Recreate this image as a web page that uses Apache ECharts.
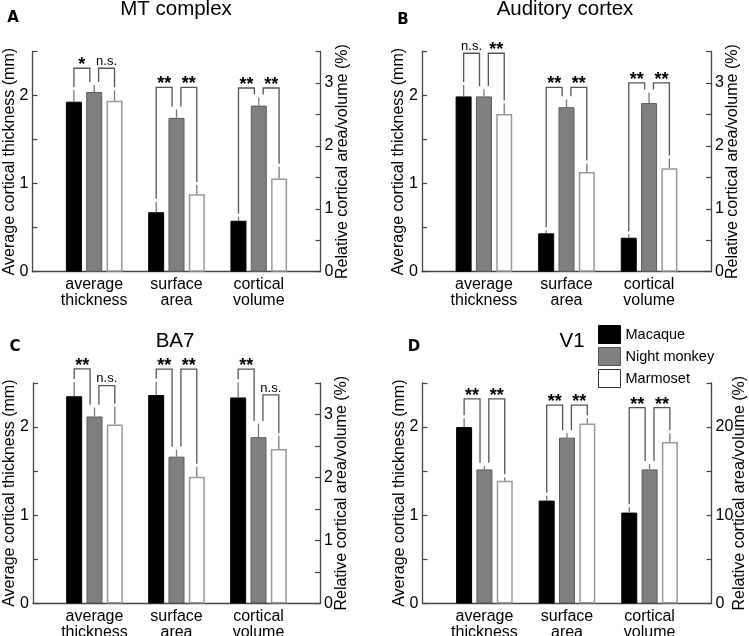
<!DOCTYPE html>
<html><head><meta charset="utf-8">
<script src="https://cdn.jsdelivr.net/npm/echarts@6/dist/echarts.min.js"></script>
<style>html,body{margin:0;padding:0;background:#fff}#chart{width:749px;height:636px}</style>
</head><body><div id="chart"></div>
<script>
// ---------------- data ----------------
const categories = ['average\nthickness', 'surface\narea', 'cortical\nvolume'];
const species = ['Macaque', 'Night monkey', 'Marmoset'];
const panelTitles = ['MT complex', 'Auditory cortex', 'BA7', 'V1'];
const panelLetters = ['A', 'B', 'C', 'D'];
const leftAxisName = 'Average cortical thickness (mm)';
const rightAxisName = 'Relative cortical area/volume (%)';
const leftMax = 2.5, leftInterval = 0.5, leftLabelStep = 1;
const rightMax = [3.5, 3.5, 3.5, 25];
const rightInterval = [0.5, 0.5, 0.5, 5];
const rightLabelStep = [1, 1, 1, 10];

// rows: average thickness (mm), surface area (%), cortical volume (%)
// columns: Macaque, Night monkey, Marmoset
const mtMean = [[1.93, 2.04, 1.94], [0.945, 2.445, 1.23], [0.81, 2.64, 1.48]];
const mtErr = [[0.13, 0.08, 0.12], [0.165, 0.135, 0.15], [0.065, 0.13, 0.19]];
const mtBracket = [[2.31, 2.31], [2.93, 2.93], [2.92, 2.92]];
const mtSig = [['*', 'n.s.'], ['**', '**'], ['**', '**']];

const audMean = [[1.99, 1.99, 1.79], [0.61, 2.615, 1.585], [0.54, 2.68, 1.645]];
const audErr = [[0.13, 0.08, 0.12], [0.05, 0.125, 0.135], [0.055, 0.17, 0.155]];
const audBracket = [[2.48, 2.48], [2.93, 2.93], [3.0, 3.0]];
const audSig = [['n.s.', '**'], ['**', '**'], ['**', '**']];

const ba7Mean = [[2.35, 2.12, 2.03], [3.31, 2.33, 2.01], [3.27, 2.64, 2.45]];
const ba7Err = [[0.16, 0.10, 0.20], [0.21, 0.11, 0.16], [0.24, 0.21, 0.21]];
const ba7Bracket = [[2.66, 2.47], [3.72, 3.72], [3.72, 3.31]];
const ba7Sig = [['**', 'n.s.'], ['**', '**'], ['**', 'n.s.']];

const v1Mean = [[2.0, 1.52, 1.39], [11.66, 18.8, 20.4], [10.3, 15.2, 18.3]];
const v1Err = [[0.10, 0.04, 0.04], [0.55, 0.5, 0.6], [0.6, 0.6, 1.0]];
const v1Bracket = [[2.32, 2.32], [22.5, 22.5], [22.2, 22.2]];
const v1Sig = [['**', '**'], ['**', '**'], ['**', '**']];

const panels = [
  {mean: mtMean, err: mtErr, bracket: mtBracket, sig: mtSig},
  {mean: audMean, err: audErr, bracket: audBracket, sig: audSig},
  {mean: ba7Mean, err: ba7Err, bracket: ba7Bracket, sig: ba7Sig},
  {mean: v1Mean, err: v1Err, bracket: v1Bracket, sig: v1Sig}
];

// ---------------- layout / style ----------------
const FONT = '"Liberation Sans", Arial, sans-serif';
const AXIS_COLOR = '#444';
const gridLayout = [
  {left: 32.5, top: 51.5, width: 288, height: 220.2},
  {left: 422, top: 51.5, width: 289, height: 220.2},
  {left: 33, top: 383, width: 287, height: 220.4},
  {left: 422.5, top: 383, width: 289, height: 220.4}
];
const titlePos = [[176, 9], [565, 9], [175, 341.5], [572, 341.5]];
const letterPos = [[13, 18], [403, 20], [15, 347], [414, 347]];
const rightNameGap = [14, 14, 14, 20];
const barStyles = [
  {color: '#000', borderColor: '#000', borderWidth: 1},
  {color: '#808080', borderColor: '#5a5a5a', borderWidth: 1},
  {color: '#fff', borderColor: '#999', borderWidth: 1.5}
];
const BAR_W = 16, BAR_GAP = '27%', SLOT = 20.3, LEG_OFF = 4.4, LEG_GAP = 3;

const isMultiple = (v, step) => Math.abs(v / step - Math.round(v / step)) < 1e-6;

const grid = [], xAxis = [], yAxis = [], series = [], graphic = [];

function annotSeries(p, axisIdx, groups) {
  const P = panels[p];
  return {
    type: 'custom', xAxisIndex: axisIdx, yAxisIndex: axisIdx, clip: false, silent: true, z: 10,
    data: groups.map(g => [g + 1, 0]),
    encode: {x: 0, y: 1},
    renderItem: function (params, api) {
      const g = groups[params.dataIndex];
      const m = P.mean[g], e = P.err[g], b = P.bracket[g], s = P.sig[g];
      const cx = api.coord([g + 1, 0])[0];
      const xs = [cx - SLOT, cx, cx + SLOT];
      const yBase = m.map(v => api.coord([g + 1, v])[1]);
      const yErr = m.map((v, i) => api.coord([g + 1, v + e[i]])[1]);
      const children = [];
      for (let i = 0; i < 3; i++) {
        children.push({type: 'line', shape: {x1: xs[i], y1: yBase[i], x2: xs[i], y2: yErr[i]},
          style: {stroke: '#777', lineWidth: 1.3}});
      }
      [[0, 1], [1, 2]].forEach(([a, c], k) => {
        const xl = a === 1 ? xs[a] + LEG_OFF : xs[a];
        const xr = c === 1 ? xs[c] - LEG_OFF : xs[c];
        const yb = api.coord([g + 1, b[k]])[1];
        children.push({type: 'polyline',
          shape: {points: [[xl, yErr[a] - LEG_GAP], [xl, yb], [xr, yb], [xr, yErr[c] - LEG_GAP]]},
          style: {stroke: '#555', lineWidth: 1.3, fill: 'none'}});
        const star = s[k] !== 'n.s.';
        children.push({type: 'text', style: {
          text: s[k], x: (xl + xr) / 2, y: yb + (star ? 6 : -0.5),
          align: 'center', verticalAlign: 'bottom', fill: '#000',
          font: star ? 'bold 18px ' + FONT : '13px ' + FONT}});
      });
      return {type: 'group', children: children};
    }
  };
}

panels.forEach((P, p) => {
  grid.push(Object.assign({containLabel: false, outerBoundsMode: 'none'}, gridLayout[p]));
  const xBase = {
    type: 'value', gridIndex: p, min: 0.25, max: 3.75, interval: 0.25,
    splitLine: {show: false}, axisTick: {show: false}
  };
  xAxis.push(Object.assign({}, xBase, {
    axisLine: {show: true, onZero: false, lineStyle: {color: AXIS_COLOR, width: 1.3}},
    axisLabel: {
      show: true, margin: 5, fontSize: 16, lineHeight: 16, color: '#000', fontFamily: FONT,
      formatter: v => (isMultiple(v, 1) && v >= 1 && v <= 3) ? categories[Math.round(v) - 1] : ''
    }
  }));
  xAxis.push(Object.assign({}, xBase, {show: false}));
  const yCommon = {
    type: 'value', gridIndex: p, min: 0,
    nameLocation: 'middle', nameRotate: 90, nameMoveOverlap: false,
    nameTextStyle: {fontSize: 16, color: '#000', fontFamily: FONT},
    splitLine: {show: false},
    axisLine: {show: true, onZero: false, lineStyle: {color: AXIS_COLOR, width: 1.3}},
    axisTick: {show: true, inside: true, length: 5, lineStyle: {color: AXIS_COLOR, width: 1.2}}
  };
  yAxis.push(Object.assign({}, yCommon, {
    position: 'left', max: leftMax, interval: leftInterval,
    name: leftAxisName, nameGap: 15,
    axisLabel: {margin: 4, fontSize: 16, color: '#000', fontFamily: FONT,
      formatter: v => isMultiple(v, leftLabelStep) ? String(Math.round(v)) : ''}
  }));
  yAxis.push(Object.assign({}, yCommon, {
    position: 'right', max: rightMax[p], interval: rightInterval[p],
    name: rightAxisName, nameGap: rightNameGap[p],
    axisLabel: {margin: 4, fontSize: 16, color: '#000', fontFamily: FONT,
      formatter: v => isMultiple(v, rightLabelStep[p]) ? String(Math.round(v)) : ''}
  }));
  const li = 2 * p, ri = 2 * p + 1;
  species.forEach((name, s) => {
    series.push({
      type: 'bar', name: name, xAxisIndex: li, yAxisIndex: li,
      barWidth: BAR_W, barGap: BAR_GAP, itemStyle: barStyles[s], silent: true,
      data: [[1, P.mean[0][s]]]
    });
  });
  species.forEach((name, s) => {
    series.push({
      type: 'bar', name: name, xAxisIndex: ri, yAxisIndex: ri,
      barWidth: BAR_W, barGap: BAR_GAP, itemStyle: barStyles[s], silent: true,
      data: [[2, P.mean[1][s]], [3, P.mean[2][s]]]
    });
  });
  series.push(annotSeries(p, li, [0]));
  series.push(annotSeries(p, ri, [1, 2]));

  graphic.push({type: 'text', x: titlePos[p][0], y: titlePos[p][1], silent: true,
    style: {text: panelTitles[p], font: '20.5px ' + FONT, fill: '#000', align: 'center', verticalAlign: 'middle'}});
  graphic.push({type: 'text', x: letterPos[p][0], y: letterPos[p][1], silent: true,
    style: {text: panelLetters[p], font: 'bold 15px "DejaVu Sans", sans-serif', fill: '#000', align: 'center', verticalAlign: 'middle'}});
});

const legendBorders = ['#000', '#555', '#333'];
const option = {
  animation: false,
  backgroundColor: '#fff',
  grid, xAxis, yAxis, series, graphic,
  legend: {
    orient: 'vertical', left: 598, top: 325, padding: 0,
    itemWidth: 22, itemHeight: 18, itemGap: 3, icon: 'rect', selectedMode: false,
    textStyle: {fontSize: 14.5, color: '#000', fontFamily: FONT},
    data: species.map((n, i) => ({name: n, itemStyle: {color: barStyles[i].color, borderColor: legendBorders[i], borderWidth: 1}}))
  }
};
const chart = echarts.init(document.getElementById('chart'), null, {renderer: 'canvas'});
chart.setOption(option);
</script></body></html>
